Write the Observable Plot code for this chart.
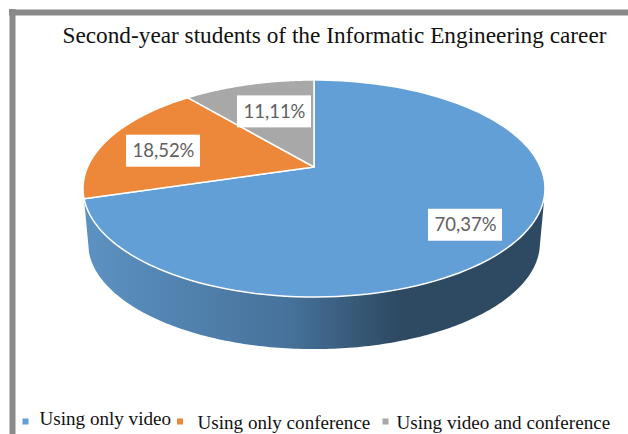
<!DOCTYPE html>
<html>
<head>
<meta charset="utf-8">
<script src="https://cdn.jsdelivr.net/npm/d3@7"></script>
<script src="https://cdn.jsdelivr.net/npm/@observablehq/plot@0.6"></script>
<style>
html,body{margin:0;padding:0;background:#fff;}
svg{display:block;}
</style>
</head>
<body>
<div id="chart"></div>
<script>
const chartTitle = "Second-year students of the Informatic Engineering career";
const categories = ["Using only video", "Using only conference", "Using video and conference"];
const shares = [70.37, 18.52, 11.11];
const shareLabels = ["70,37%", "18,52%", "11,11%"];
const colors = ["#629fd6", "#ed8739", "#a8a8a8"];

// Layout of the tilted pie: unit disc -> perspective ellipse on the page
const cx = 314, cy = 188.5, rx = 231, ry = 108.5, apex = 21.5;
const k = -(2 * apex) / (2 * ry);
const a = rx * Math.sqrt(1 - k * k);
const project = (deg, r = 1) => {
  const t = deg * Math.PI / 180, u = r * Math.sin(t), v = -r * Math.cos(t), d = 1 + k * v;
  return [cx + a * u / d, cy + (ry * v - apex) / d];
};
const depth = 54.5, shrink = 0.978;
const lower = ([x, y]) => [cx + shrink * (x - cx), cy + shrink * (y - cy) + depth];

const total = d3.sum(shares);
let acc = 0;
const slices = categories.map((name, i) => {
  const start = acc / total * 360;
  acc += shares[i];
  return {name, i, start, end: acc / total * 360};
});

// Sector outlines sampled along the rim
const rimOf = s => d3.range(0, 121).map(j => {
  const [x, y] = project(s.start + (s.end - s.start) * j / 120);
  return {x, y};
});
const apexPt = project(0, 0);

// Visible wall, from the right-hand tangent round the front to the blue slice's end
const wallFrom = 105, wallTo = slices[0].end;
const wall = d3.range(0, 181).map(j => {
  const [x1, y1] = project(wallFrom + (wallTo - wallFrom) * j / 180);
  const [x2, y2] = lower([x1, y1]);
  return {x1, y1, x2, y2};
});

// Label placement: radial fraction of the mid-angle plus a small nudge
const labelRadius = [0.757, 0.725, 0.572];
const labelNudge = [6, 4.5, -5];
const labels = slices.map((s, i) => {
  const [x, y] = project((s.start + s.end) / 2, labelRadius[i]);
  return {x, y: y + labelNudge[i], text: shareLabels[i]};
});

const legendText = [{x: 39, y: 424.5, t: categories[0]}, {x: 197, y: 428.5, t: categories[1]}, {x: 396, y: 428.5, t: categories[2]}];
const legendKeys = [{x: 25, c: 0}, {x: 179.5, c: 1}, {x: 385, c: 2}];

const defs = () => {
  const g = d3.create("svg:defs");
  const lg = g.append("linearGradient").attr("id", "wallGrad");
  [[0, "#5c92c2"], [0.45, "#46719a"], [0.68, "#2d4a62"], [1, "#2d4a62"]].forEach(([o, c]) =>
    lg.append("stop").attr("offset", o).attr("stop-color", c));
  return g.node();
};

const chart = Plot.plot({
  width: 628, height: 434,
  margin: 0,
  x: {domain: [0, 628], range: [0, 628], axis: null},
  y: {domain: [0, 434], range: [0, 434], axis: null},
  style: {background: "#fff"},
  marks: [
    defs,
    Plot.ruleX([12], {y1: 9, y2: 434, stroke: "#8a8a8a", strokeWidth: 6}),
    Plot.ruleY([12], {x1: 9, x2: 628, stroke: "#8a8a8a", strokeWidth: 6}),
    Plot.text([chartTitle], {x: 62, y: 35, text: d => d, textAnchor: "start", lineAnchor: "middle",
      fontFamily: "Liberation Serif", fontSize: 24, fill: "#111", className: "chart-title"}),
    Plot.area(wall, {x1: "x1", y1: "y1", x2: "x2", y2: "y2", fill: "url(#wallGrad)"}),
    ...slices.map((s, i) => Plot.area(rimOf(s), {x1: () => apexPt[0], y1: () => apexPt[1], x2: "x", y2: "y",
      fill: colors[i], stroke: "#fff", strokeWidth: 1.5})),
    Plot.rect(labels, {x1: d => d.x - 37, x2: d => d.x + 37, y1: d => d.y - 16, y2: d => d.y + 16, fill: "#fff"}),
    Plot.text(labels, {x: "x", y: "y", text: "text", fontFamily: "Lato", fontSize: 18.5, fill: "#606060"}),
    Plot.dot(legendKeys, {x: "x", y: 421, symbol: "square", r: 3.4, fill: d => colors[d.c], stroke: "none"}),
    Plot.text(legendText, {x: "x", y: "y", text: "t", textAnchor: "start", lineAnchor: "bottom",
      fontFamily: "Liberation Serif", fontSize: 19.1, fill: "#111"})
  ]
});
d3.select(chart).selectAll(".chart-title text")
  .attr("textLength", 544).attr("lengthAdjust", "spacingAndGlyphs");
document.getElementById("chart").append(chart);
</script>
</body>
</html>
